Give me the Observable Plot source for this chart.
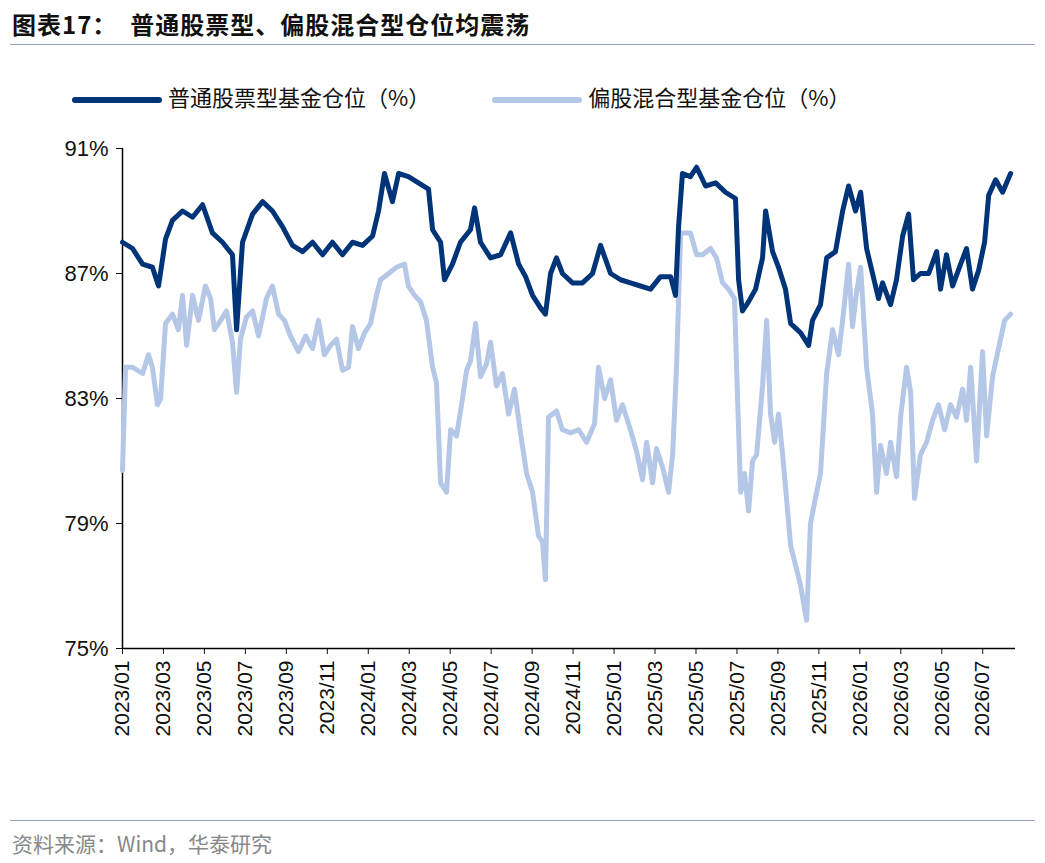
<!DOCTYPE html>
<html><head><meta charset="utf-8">
<script src="https://cdn.jsdelivr.net/npm/d3@7"></script>
<script src="https://cdn.jsdelivr.net/npm/@observablehq/plot@0.6"></script>
<style>
html,body{margin:0;background:#fff;font-family:"Noto Sans CJK SC","Liberation Sans",sans-serif;}
#wrap{width:1045px;height:863px;position:relative;overflow:hidden;}
#title{position:absolute;left:12px;top:6px;font-size:24px;font-weight:bold;color:#111;letter-spacing:1px;}
#tl{position:absolute;left:10px;right:10px;top:44px;border-top:1.5px solid #8ea6bf;}
#legend{position:absolute;top:80px;left:72px;font-size:22px;color:#111;display:flex;gap:62px;}
#legend span.k{display:inline-block;width:90px;height:6px;border-radius:3px;vertical-align:middle;margin-right:6px;}
#chart{position:absolute;top:120px;left:0;}
#bl{position:absolute;left:10px;right:10px;top:820px;border-top:1.5px solid #8ea6bf;}
#src{position:absolute;left:12px;top:828px;font-size:21px;color:#888;}
</style></head><body>
<div id="wrap">
<div id="title">图表17：&nbsp;&nbsp;普通股票型、偏股混合型仓位均震荡</div>
<div id="tl"></div>
<div id="legend"><div><span class="k" style="background:#003478"></span>普通股票型基金仓位（%）</div><div><span class="k" style="background:#b4c7e7"></span>偏股混合型基金仓位（%）</div></div>
<div id="chart"></div>
<div id="bl"></div>
<div id="src">资料来源：Wind，华泰研究</div>
</div>
<script>
// month offsets since 2023/01
const stockMonths=[0,.49,.98,1.46,1.76,2.10,2.44,2.93,3.42,3.91,4.39,4.88,5.37,5.57,5.86,6.35,6.84,7.32,7.81,8.30,8.79,9.28,9.77,10.25,10.74,11.23,11.72,12.21,12.5,12.79,13.18,13.48,13.96,14.45,14.94,15.14,15.53,15.72,16.11,16.50,16.99,17.19,17.48,17.97,18.46,18.95,19.34,19.68,20.02,20.41,20.65,20.90,21.19,21.48,21.97,22.46,22.95,23.34,23.83,24.32,24.80,25.29,25.78,26.27,26.76,27.0,27.15,27.34,27.73,28.03,28.47,28.96,29.44,29.93,30.08,30.27,30.57,30.91,31.25,31.40,31.74,32.03,32.37,32.62,33.11,33.50,33.69,34.08,34.38,34.81,35.16,35.45,35.79,36.04,36.33,36.62,36.91,37.11,37.50,37.79,38.09,38.38,38.62,38.96,39.36,39.75,39.94,40.23,40.53,40.92,41.21,41.50,41.80,42.09,42.29,42.63,42.97,43.36];
const stockValues=[88.0,87.8,87.3,87.2,86.6,88.1,88.7,89.0,88.8,89.2,88.3,88.0,87.6,85.2,88.0,88.9,89.3,89.0,88.5,87.9,87.7,88.0,87.6,88.0,87.6,88.0,87.9,88.2,89.0,90.2,89.3,90.2,90.1,89.9,89.7,88.4,88.0,86.8,87.3,88.0,88.4,89.1,88.0,87.5,87.6,88.3,87.3,86.9,86.3,85.9,85.7,87.0,87.5,87.0,86.7,86.7,87.0,87.9,87.0,86.8,86.7,86.6,86.5,86.9,86.9,86.3,88.5,90.2,90.1,90.4,89.8,89.9,89.6,89.4,86.8,85.8,86.1,86.5,87.5,89.0,87.7,87.2,86.5,85.4,85.1,84.7,85.5,86.0,87.5,87.7,89.0,89.8,89.0,89.6,87.8,87.0,86.2,86.7,86.0,86.8,88.2,88.9,86.8,87.0,87.0,87.7,86.5,87.6,86.6,87.3,87.8,86.5,87.1,88.0,89.5,90.0,89.6,90.2];
const mixMonths=[0,.15,.49,.98,1.27,1.46,1.71,1.86,2.10,2.44,2.73,2.93,3.13,3.42,3.71,4.05,4.30,4.49,4.79,5.08,5.37,5.57,5.76,6.05,6.35,6.64,7.03,7.32,7.62,7.91,8.20,8.59,8.94,9.28,9.57,9.86,10.16,10.45,10.74,11.04,11.23,11.52,11.82,12.11,12.40,12.60,12.99,13.38,13.77,13.96,14.26,14.55,14.84,15.14,15.33,15.53,15.82,16.02,16.31,16.60,16.80,16.99,17.24,17.48,17.77,17.97,18.26,18.55,18.85,19.14,19.43,19.73,20.02,20.31,20.51,20.65,20.80,21.19,21.48,21.88,22.27,22.66,23.05,23.24,23.54,23.83,24.12,24.41,24.80,25.10,25.39,25.59,25.88,26.07,26.37,26.66,26.86,27.05,27.25,27.73,28.03,28.32,28.71,29.00,29.30,29.59,29.88,30.03,30.18,30.37,30.57,30.76,30.96,31.25,31.45,31.64,31.84,32.03,32.23,32.42,32.62,32.81,33.11,33.40,33.59,33.89,34.08,34.38,34.67,34.96,35.16,35.45,35.64,35.84,36.04,36.33,36.62,36.82,37.01,37.30,37.50,37.79,37.99,38.28,38.48,38.67,38.96,39.26,39.55,39.84,40.14,40.43,40.72,41.02,41.21,41.41,41.70,41.99,42.19,42.48,42.77,43.07,43.36];
const mixValues=[80.7,84.0,84.0,83.8,84.4,84.0,82.8,83.0,85.4,85.7,85.2,86.3,84.7,86.3,85.5,86.6,86.2,85.2,85.5,85.8,84.8,83.2,84.9,85.6,85.8,85.0,86.2,86.6,85.7,85.5,85.0,84.5,85.0,84.6,85.5,84.4,84.7,84.9,83.9,84.0,85.3,84.6,85.1,85.4,86.3,86.8,87.0,87.2,87.3,86.6,86.3,86.1,85.5,84.0,83.5,80.3,80.0,82.0,81.8,83.0,83.9,84.2,85.4,83.7,84.1,84.8,83.4,83.8,82.5,83.3,81.9,80.6,80.0,78.6,78.4,77.2,82.4,82.6,82.0,81.9,82.0,81.6,82.2,84.0,83.0,83.6,82.3,82.8,82.0,81.3,80.4,81.6,80.3,81.4,80.8,80.0,81.2,84.0,88.3,88.3,87.6,87.6,87.8,87.5,86.7,86.5,86.2,83.0,80.0,80.6,79.4,81.0,81.2,83.4,85.5,82.5,81.6,82.5,81.2,79.8,78.3,77.8,77.0,75.9,79.0,80.0,80.6,83.8,85.2,84.4,85.5,87.3,85.3,86.4,87.2,84.0,82.5,80.0,81.5,80.6,81.6,80.5,82.4,84.0,83.2,79.8,81.2,81.6,82.3,82.8,82.0,82.8,82.4,83.3,82.3,84.0,81.0,84.5,81.8,83.7,84.6,85.5,85.7];
const yTicks=[75,79,83,87,91];
const xTickMonths=[0,2,4,6,8,10,12,14,16,18,20,22,24,26,28,30,32,34,36,38,40,42];
const xTickLabels=["2023/01","2023/03","2023/05","2023/07","2023/09","2023/11","2024/01","2024/03","2024/05","2024/07","2024/09","2024/11","2025/01","2025/03","2025/05","2025/07","2025/09","2025/11","2026/01","2026/03","2026/05","2026/07"];
const labelOf=new Map(xTickMonths.map((m,i)=>[m,xTickLabels[i]]));

const stock=stockMonths.map((m,i)=>({m:m,v:stockValues[i]}));
const mix=mixMonths.map((m,i)=>({m:m,v:mixValues[i]}));

try{
const chart=Plot.plot({
  width:1045,height:678,marginLeft:122,marginRight:30,marginTop:28,marginBottom:150,
  style:{fontFamily:"Liberation Sans, Arial, sans-serif",fontSize:"22px",color:"#111",background:"#fff"},
  x:{domain:[0,43.6]},
  y:{domain:[75,91]},
  marks:[
    Plot.axisY({ticks:yTicks,tickFormat:d=>d+"%",tickSize:6,tickPadding:8,fontSize:22,label:null}),
    Plot.axisX({ticks:xTickMonths,tickFormat:d=>labelOf.get(d),tickRotate:-90,tickSize:6,tickPadding:6,fontSize:21,label:null}),
    Plot.ruleX([0],{stroke:"#000",strokeWidth:1.5}),
    Plot.ruleY([75],{stroke:"#000",strokeWidth:1.5}),
    Plot.line(mix,{x:"m",y:"v",stroke:"#b4c7e7",strokeWidth:5,strokeLinejoin:"round"}),
    Plot.line(stock,{x:"m",y:"v",stroke:"#003478",strokeWidth:5,strokeLinejoin:"round"})
  ]
});
document.getElementById("chart").appendChild(chart);
}catch(e){document.getElementById("chart").textContent=String(e);}
</script>
</body></html>
